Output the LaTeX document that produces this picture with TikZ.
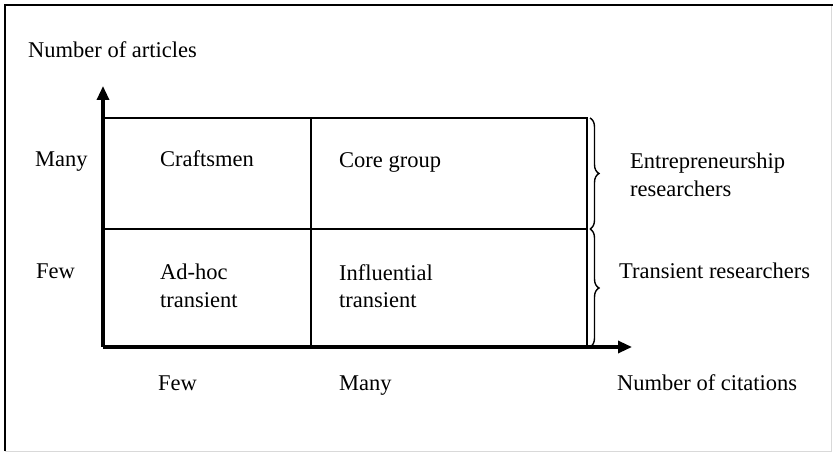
\documentclass[tikz,border=0pt]{standalone}
\usepackage{fontspec}
\setmainfont{Liberation Serif}
\usetikzlibrary{arrows.meta,decorations.pathreplacing}

\tikzset{
  axis/.style={line width=3.2pt, -{Triangle[length=14pt,width=12pt]}},
  grid/.style={line width=1.6pt},
  brace/.style={line width=1.4pt, decorate, decoration={brace, amplitude=9pt}},
  lbl/.style={font=\fontsize{22.5}{27.5}\selectfont, inner sep=0pt, anchor=west, align=left},
  oneline/.style={lbl, text height=17pt, text depth=3pt},
}

\begin{document}
\begin{tikzpicture}[x=1pt,y=1pt]
  \useasboundingbox (0,0) rectangle (833,-454);

  % outer frame
  \draw[line width=0.8pt, black!15] (831,-5) -- (831,-451) -- (5,-451);
  \draw[line width=2pt] (5,-451) -- (5,-5) -- (833,-5);

  % key points of the chart
  \coordinate (O)  at (103,-347);
  \coordinate (yt) at (103,-86);
  \coordinate (xt) at (632,-347);
  \coordinate (tl) at (103,-118);
  \coordinate (tm) at (311,-118);
  \coordinate (tr) at (587,-118);
  \coordinate (ml) at (103,-229);
  \coordinate (mr) at (587,-229);
  \coordinate (bm) at (311,-347);
  \coordinate (br) at (587,-347);
  \coordinate (b1) at (590,-118);
  \coordinate (b2) at (590,-229);
  \coordinate (b3) at (590,-347);

  % quadrant grid
  \draw[grid] (tl) -- (tr) -- (br);
  \draw[grid] (ml) -- (mr);
  \draw[grid] (tm) -- (bm);

  % axes
  \draw[axis] (O) -- (yt);
  \draw[axis] (O) -- (xt);

  % braces grouping the rows
  \draw[brace] (b1) -- (b2);
  \draw[brace] (b2) -- (b3);

  % labels
  \node[oneline] (ylab)  at (28,-51)   {Number of articles};
  \node[oneline] (ymany) at (35,-160)  {Many};
  \node[oneline] (yfew)  at (36,-272)  {Few};
  \node[oneline] (craft) at (160,-160) {Craftsmen};
  \node[oneline] (core)  at (339,-161) {Core group};
  \node[lbl]     (adhoc) at (160,-286) {Ad-hoc\\transient};
  \node[lbl]     (infl)  at (339,-286) {Influential\\transient};
  \node[lbl]     (entr)  at (630,-175) {Entrepreneurship\\researchers};
  \node[oneline] (trans) at (619,-272) {Transient researchers};
  \node[oneline] (xfew)  at (158,-383) {Few};
  \node[oneline] (xmany) at (339,-383) {Many};
  \node[oneline] (xlab)  at (617,-383) {Number of citations};
\end{tikzpicture}
\end{document}
